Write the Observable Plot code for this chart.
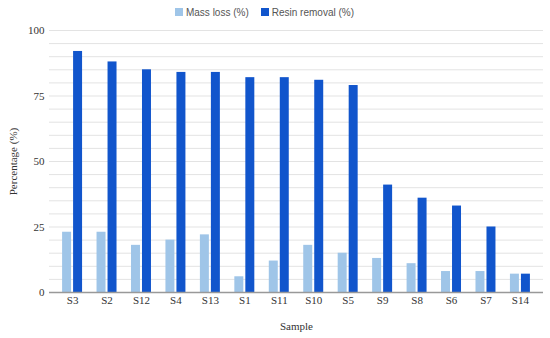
<!DOCTYPE html>
<html>
<head>
<meta charset="utf-8">
<script src="https://cdn.jsdelivr.net/npm/d3@7"></script>
<script src="https://cdn.jsdelivr.net/npm/@observablehq/plot@0.6"></script>
<style>
  html, body { margin: 0; padding: 0; background: #fff; }
  #legend { height: 24px; display: flex; justify-content: center; align-items: center;
    font-family: "Liberation Sans", Arial, sans-serif; font-size: 10px; color: #555; padding-right: 21px; }
  .item { display: flex; align-items: center; margin: 0 6px; }
  .sw { width: 8px; height: 8px; margin-right: 3px; }
</style>
</head>
<body>
<div id="legend"></div>
<div id="chart"></div>
<script>
const samples = ["S3","S2","S12","S4","S13","S1","S11","S10","S5","S9","S8","S6","S7","S14"];
const massLoss = [23, 23, 18, 20, 22, 6, 12, 18, 15, 13, 11, 8, 8, 7];
const resinRemoval = [92, 88, 85, 84, 84, 82, 82, 81, 79, 41, 36, 33, 25, 7];
const yTicks = [0, 25, 50, 75, 100];
const gridLines = [5,10,15,20,25,30,35,40,45,50,55,60,65,70,75,80,85,90,95,100];
const seriesNames = ["Mass loss (%)", "Resin removal (%)"];
const seriesColors = ["#9fc5e8", "#1155cc"];

const rows = samples.map((s, i) => ({sample: s, mass: massLoss[i], resin: resinRemoval[i]}));

const legend = document.getElementById("legend");
seriesNames.forEach((n, i) => {
  const it = document.createElement("div");
  it.className = "item";
  it.innerHTML = `<span class="sw" style="background:${seriesColors[i]}"></span><span>${n}</span>`;
  legend.appendChild(it);
});

const chart = Plot.plot({
  width: 550,
  height: 314,
  marginTop: 6,
  marginBottom: 46,
  marginLeft: 49,
  marginRight: 7,
  style: {fontFamily: "'Liberation Serif', 'Times New Roman', serif", fontSize: "11px", color: "#333", background: "#fff"},
  x: {domain: samples, paddingInner: 0.42, paddingOuter: 0.38, round: false, label: "Sample"},
  y: {domain: [0, 100], label: "Percentage (%)"},
  marks: [
    Plot.ruleY(gridLines, {stroke: "#e3e3e3", strokeWidth: 1}),
    Plot.barY(rows, {x: "sample", y: "mass", fill: seriesColors[0], insetRight: 11}),
    Plot.barY(rows, {x: "sample", y: "resin", fill: seriesColors[1], insetLeft: 11}),
    Plot.ruleY([0], {stroke: "#999", strokeWidth: 1.5}),
    Plot.axisY({ticks: yTicks, tickSize: 0, tickPadding: 5, label: "Percentage (%)", labelAnchor: "center", labelOffset: 40, labelArrow: false, fontSize: 11}),
    Plot.axisX({tickSize: 0, tickPadding: 4, label: "Sample", labelAnchor: "center", labelOffset: 37, labelArrow: false, fontSize: 11})
  ]
});
document.getElementById("chart").appendChild(chart);
</script>
</body>
</html>
